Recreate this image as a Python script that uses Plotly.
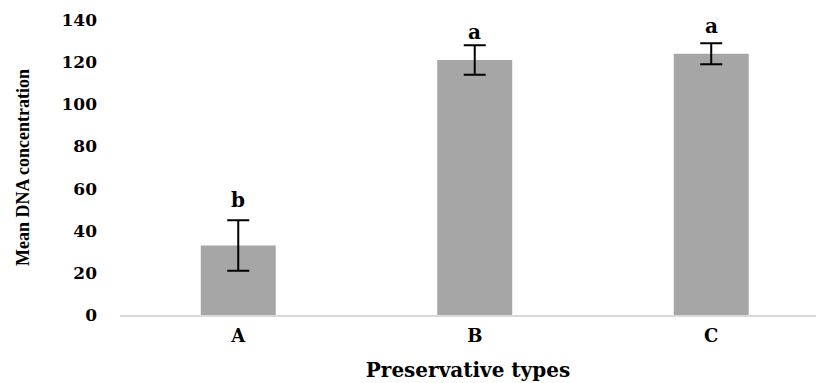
import plotly.graph_objects as go

categories = ["A", "B", "C"]
means = [33, 121, 124]
errors = [12, 7, 5]
letters = ["b", "a", "a"]
letter_y = [54.5, 134.5, 137]
y_ticks = [0, 20, 40, 60, 80, 100, 120, 140]

fig = go.Figure()
fig.add_trace(go.Bar(
    x=categories, y=means,
    width=0.317,
    marker=dict(color="#a6a6a6", line=dict(width=0)),
    error_y=dict(type="data", array=errors, visible=True,
                 color="black", thickness=2, width=11),
))

for c, l, ly in zip(categories, letters, letter_y):
    fig.add_annotation(x=c, y=ly, text=l, showarrow=False,
                       xanchor="center", yanchor="middle",
                       font=dict(family="DejaVu Serif", size=20, color="black", weight="bold"))

fig.update_layout(
    width=816, height=383,
    margin=dict(l=120, r=0, t=20, b=68),
    plot_bgcolor="white", paper_bgcolor="white",
    showlegend=False,
    xaxis=dict(
        type="category",
        range=[-0.5, 2.443],
        automargin=False,
        showgrid=False, zeroline=False,
        showline=True, linecolor="#d9d9d9", linewidth=2,
        ticks="", ticklabelstandoff=3,
        tickfont=dict(family="DejaVu Serif", size=18, color="black", weight="bold"),
        title=dict(text="Preservative types", standoff=18,
                   font=dict(family="DejaVu Serif", size=20, color="black", weight="bold")),
    ),
    yaxis=dict(
        range=[0, 140],
        automargin=False,
        tickvals=y_ticks,
        showgrid=False, zeroline=False, showline=False,
        ticks="", ticklabelstandoff=22,
        tickfont=dict(family="DejaVu Serif", size=17, color="black", weight="bold"),
        title=dict(text="Mean DNA concentration", standoff=27,
                   font=dict(family="Liberation Serif", size=18, color="black", weight="bold")),
    ),
)

fig.write_html("out.html", config={"displayModeBar": False},
               post_script="document.body.style.margin='0';")
